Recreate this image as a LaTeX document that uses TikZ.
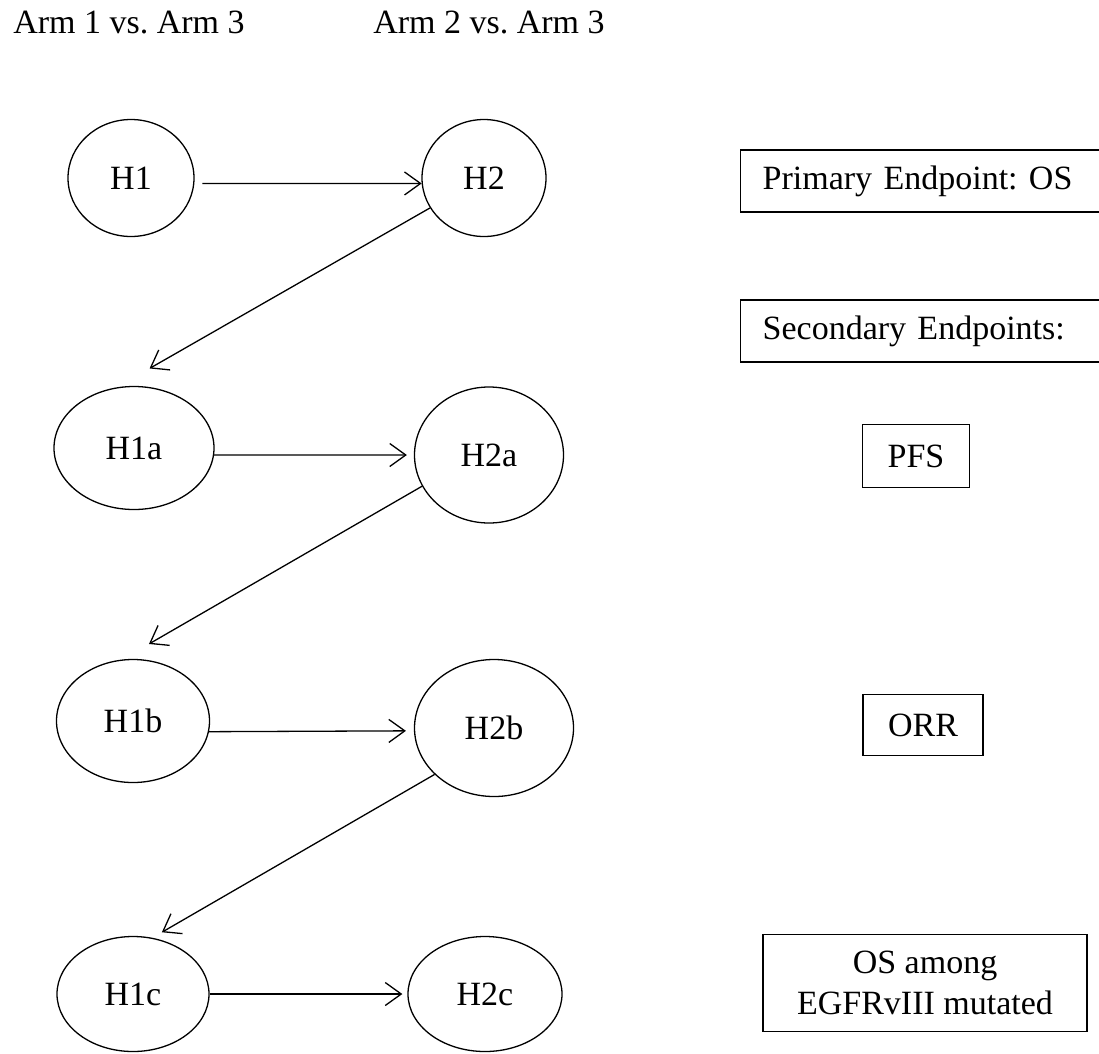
\documentclass[tikz,border=0pt]{standalone}
\usepackage{fontspec}
\setmainfont{Liberation Serif}
\frenchspacing
\usetikzlibrary{positioning, shapes.geometric, arrows.meta}
\tikzset{hyp/.style={draw, ellipse, inner sep=0pt, line width=1.3pt},
block/.style={draw, line width=1.3pt, inner sep=0pt},
endpt/.style={block, anchor=west, text width=340pt, inner xsep=22pt, minimum height=62pt, align=left},
line/.style={-{Straight Barb[length=16pt,width=23pt]}, line width=1.3pt}
}

\begin{document}
\begin{tikzpicture}[x=1pt, y=-1pt, font=\fontsize{34}{41}\selectfont]
\useasboundingbox (0,0) rectangle (1099,1053);

\node[anchor=base] (head1) at (129,33) {Arm 1 vs. Arm 3};
\node[anchor=base] (head2) at (489,33) {Arm 2 vs. Arm 3};

\node[hyp, minimum width=126pt, minimum height=117pt] (H1) at (131,178) {H1};
\node[hyp, minimum width=124pt, minimum height=117pt] (H2) at (484,178) {H2};
\node[hyp, minimum width=160pt, minimum height=123pt] (H1a) at (134,448) {H1a};
\node[hyp, minimum width=149pt, minimum height=136pt] (H2a) at (489,455) {H2a};
\node[hyp, minimum width=153pt, minimum height=123pt] (H1b) at (133,721) {H1b};
\node[hyp, minimum width=159pt, minimum height=137pt] (H2b) at (494,728) {H2b};
\node[hyp, minimum width=152pt, minimum height=115pt] (H1c) at (133,994) {H1c};
\node[hyp, minimum width=154pt, minimum height=115pt] (H2c) at (485,994) {H2c};

\node[endpt] (primary) at (740,181) {Primary Endpoint: OS};
\node[endpt] (secondary) at (740,331) {Secondary Endpoints:};
\node[block, minimum width=107pt, minimum height=63pt] (pfs) at (916,456) {PFS};
\node[block, minimum width=120pt, minimum height=61pt] (orr) at (923,725) {ORR};
\node[block, minimum width=324pt, minimum height=97pt, align=center] (egfr) at (925,983) {OS among\\EGFRvIII mutated};

\draw[line, shorten <=8pt] (H1.-5) -- (H2.185);
\draw[line, shorten >=38pt] (H2.209) -- (H1a.106);
\draw[line, shorten >=7pt] (H1a.-5) -- (H2a.west);
\draw[line, shorten >=31pt] (H2a.205) -- (H1b.100);
\draw[line, shorten >=8pt] (H1b.-8) -- (H2b.182);
\draw[line, shorten >=11pt] (H2b.218) -- (H1c.71);
\draw[line, shorten >=5pt] (H1c.east) -- (H2c.west);

\end{tikzpicture}
\end{document}
